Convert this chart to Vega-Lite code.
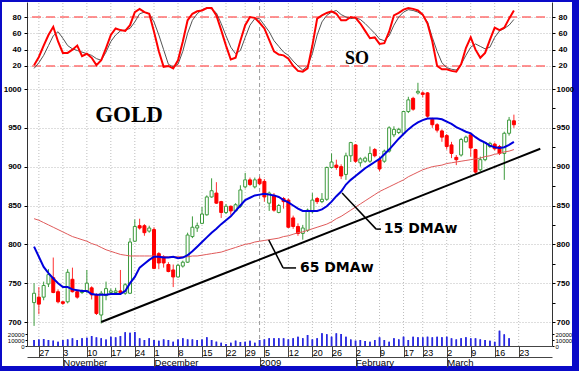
{
 "$schema": "https://vega.github.io/schema/vega-lite/v6.json",
 "width": 572, "height": 366,
 "autosize": {"type": "none"},
 "padding": {"left": 1, "top": 1, "right": 6, "bottom": 4},
 "background": "#0A0AC8",
 "config": {
  "view": {"fill": "white", "stroke": "#0A0AC8", "strokeWidth": 2},
  "font": "Liberation Sans",
  "axis": {"labelFont": "Liberation Sans", "labelColor": "black", "tickColor": "black", "domainColor": "black", "title": null, "labelBound": false, "labelFlush": false, "labelOverlap": false}
 },
 "datasets": {
  "px": [
   {"i":-1,"o":725,"h":750,"l":695,"c":737,"m15":797,"m65":833,"k":21,"d":17,"v":10000},
   {"i":0,"o":732,"h":745,"l":710,"c":723,"m15":784,"m65":831,"k":31,"d":24,"v":11000},
   {"i":1,"o":732,"h":752,"l":728,"c":747,"m15":771,"m65":828,"k":45,"d":33,"v":11700},
   {"i":2,"o":749,"h":768,"l":745,"c":761,"m15":763,"m65":825,"k":58,"d":45,"v":10000},
   {"i":3,"o":757,"h":783,"l":737,"c":738,"m15":756,"m65":822,"k":68,"d":57,"v":9000},
   {"i":4,"o":739,"h":742,"l":724,"c":726,"m15":750,"m65":819,"k":50,"d":62,"v":7200},
   {"i":5,"o":726,"h":727,"l":722,"c":724,"m15":745,"m65":816,"k":36,"d":54,"v":10000},
   {"i":6,"o":726,"h":768,"l":724,"c":764,"m15":745,"m65":813,"k":36,"d":45,"v":11000},
   {"i":7,"o":755,"h":770,"l":738,"c":739,"m15":742,"m65":810,"k":40,"d":41,"v":12800},
   {"i":8,"o":739,"h":741,"l":730,"c":732,"m15":741,"m65":808,"k":45,"d":39,"v":10000},
   {"i":9,"o":738,"h":742,"l":736,"c":740,"m15":740,"m65":806,"k":32,"d":37,"v":12800},
   {"i":10,"o":740,"h":767,"l":737,"c":750,"m15":740,"m65":804,"k":35,"d":35,"v":13900},
   {"i":11,"o":744,"h":746,"l":729,"c":735,"m15":736,"m65":801,"k":30,"d":33,"v":16600},
   {"i":12,"o":735,"h":737,"l":709,"c":711,"m15":735,"m65":799,"k":21,"d":29,"v":14400},
   {"i":13,"o":709,"h":740,"l":698,"c":737,"m15":735,"m65":796,"k":27,"d":27,"v":12800},
   {"i":14,"o":734,"h":752,"l":728,"c":743,"m15":735,"m65":793,"k":42,"d":37,"v":11000},
   {"i":15,"o":738,"h":743,"l":735,"c":740,"m15":736,"m65":791,"k":58,"d":50,"v":15500},
   {"i":16,"o":738,"h":744,"l":735,"c":740,"m15":736,"m65":789,"k":66,"d":58,"v":14400},
   {"i":17,"o":740,"h":767,"l":736,"c":738,"m15":736,"m65":787,"k":64,"d":63,"v":16600},
   {"i":18,"o":737,"h":750,"l":735,"c":748,"m15":740,"m65":786,"k":63,"d":64,"v":22800},
   {"i":19,"o":737,"h":808,"l":736,"c":803,"m15":750,"m65":785,"k":70,"d":66,"v":22200},
   {"i":20,"o":804,"h":832,"l":803,"c":823,"m15":758,"m65":785,"k":86,"d":74,"v":23300},
   {"i":21,"o":824,"h":833,"l":819,"c":821,"m15":770,"m65":785,"k":90,"d":84,"v":12800},
   {"i":22,"o":824,"h":826,"l":811,"c":815,"m15":775,"m65":785,"k":86,"d":86,"v":10000},
   {"i":23,"o":817,"h":824,"l":815,"c":821,"m15":780,"m65":785,"k":84,"d":84,"v":12800},
   {"i":24,"o":819,"h":822,"l":768,"c":769,"m15":784,"m65":785,"k":62,"d":74,"v":10000},
   {"i":25,"o":788,"h":790,"l":768,"c":776,"m15":784,"m65":784,"k":38,"d":58,"v":8900},
   {"i":26,"o":784,"h":786,"l":770,"c":776,"m15":783,"m65":784,"k":19,"d":40,"v":11000},
   {"i":27,"o":774,"h":777,"l":764,"c":765,"m15":783,"m65":784,"k":20,"d":22,"v":10000},
   {"i":28,"o":767,"h":774,"l":745,"c":758,"m15":784,"m65":784,"k":17,"d":19,"v":7200},
   {"i":29,"o":758,"h":775,"l":757,"c":773,"m15":782,"m65":784,"k":27,"d":22,"v":11000},
   {"i":30,"o":772,"h":779,"l":770,"c":777,"m15":783,"m65":784,"k":50,"d":38,"v":12800},
   {"i":31,"o":777,"h":815,"l":776,"c":812,"m15":786,"m65":784,"k":76,"d":60,"v":11000},
   {"i":32,"o":810,"h":836,"l":808,"c":822,"m15":791,"m65":785,"k":84,"d":76,"v":11000},
   {"i":33,"o":821,"h":828,"l":816,"c":824,"m15":797,"m65":785,"k":87,"d":84,"v":10000},
   {"i":34,"o":827,"h":848,"l":826,"c":839,"m15":803,"m65":786,"k":88,"d":89,"v":11000},
   {"i":35,"o":838,"h":863,"l":837,"c":861,"m15":809,"m65":787,"k":91,"d":91,"v":14400},
   {"i":36,"o":861,"h":885,"l":860,"c":869,"m15":815,"m65":788,"k":91,"d":90,"v":10000},
   {"i":37,"o":866,"h":880,"l":852,"c":853,"m15":820,"m65":789,"k":82,"d":85,"v":7200},
   {"i":38,"o":855,"h":856,"l":834,"c":841,"m15":826,"m65":790,"k":64,"d":72,"v":5500},
   {"i":39,"o":841,"h":852,"l":839,"c":849,"m15":831,"m65":792,"k":45,"d":57,"v":3300},
   {"i":40,"o":849,"h":850,"l":838,"c":843,"m15":836,"m65":794,"k":28,"d":43,"v":5500},
   {"i":41,"o":843,"h":853,"l":842,"c":851,"m15":843,"m65":796,"k":30,"d":35,"v":8900},
   {"i":42,"o":849,"h":876,"l":847,"c":870,"m15":850,"m65":798,"k":51,"d":39,"v":6600},
   {"i":43,"o":874,"h":892,"l":872,"c":883,"m15":857,"m65":800,"k":70,"d":55,"v":7200},
   {"i":44,"o":883,"h":886,"l":875,"c":877,"m15":860,"m65":801,"k":80,"d":70,"v":8900},
   {"i":45,"o":874,"h":886,"l":872,"c":883,"m15":863,"m65":803,"k":79,"d":78,"v":5500},
   {"i":46,"o":884,"h":887,"l":876,"c":878,"m15":864,"m65":804,"k":73,"d":78,"v":10000},
   {"i":47,"o":881,"h":884,"l":855,"c":861,"m15":865,"m65":805,"k":66,"d":70,"v":11000},
   {"i":48,"o":853,"h":868,"l":843,"c":866,"m15":864,"m65":806,"k":52,"d":62,"v":12800},
   {"i":49,"o":863,"h":866,"l":842,"c":844,"m15":863,"m65":807,"k":38,"d":51,"v":12800},
   {"i":50,"o":841,"h":852,"l":840,"c":850,"m15":861,"m65":808,"k":34,"d":44,"v":12800},
   {"i":51,"o":859,"h":861,"l":846,"c":855,"m15":857,"m65":810,"k":33,"d":37,"v":12800},
   {"i":52,"o":857,"h":859,"l":821,"c":822,"m15":854,"m65":811,"k":29,"d":33,"v":11000},
   {"i":53,"o":834,"h":837,"l":820,"c":823,"m15":850,"m65":813,"k":20,"d":26,"v":12800},
   {"i":54,"o":823,"h":827,"l":811,"c":814,"m15":846,"m65":815,"k":14,"d":20,"v":15500},
   {"i":55,"o":814,"h":825,"l":806,"c":821,"m15":843,"m65":816,"k":13,"d":15,"v":12800},
   {"i":56,"o":818,"h":846,"l":816,"c":844,"m15":843,"m65":818,"k":17,"d":20,"v":18300},
   {"i":57,"o":842,"h":866,"l":840,"c":857,"m15":843,"m65":820,"k":45,"d":35,"v":11000},
   {"i":58,"o":859,"h":861,"l":852,"c":855,"m15":843,"m65":822,"k":78,"d":58,"v":12800},
   {"i":59,"o":855,"h":866,"l":853,"c":858,"m15":845,"m65":824,"k":82,"d":74,"v":21100},
   {"i":60,"o":858,"h":900,"l":856,"c":899,"m15":849,"m65":826,"k":85,"d":82,"v":19400},
   {"i":61,"o":899,"h":917,"l":898,"c":906,"m15":855,"m65":829,"k":87,"d":86,"v":15500},
   {"i":62,"o":902,"h":909,"l":896,"c":899,"m15":862,"m65":833,"k":84,"d":88,"v":21100},
   {"i":63,"o":900,"h":903,"l":884,"c":888,"m15":868,"m65":836,"k":76,"d":83,"v":20000},
   {"i":64,"o":890,"h":918,"l":883,"c":914,"m15":877,"m65":840,"k":76,"d":80,"v":15500},
   {"i":65,"o":914,"h":932,"l":906,"c":931,"m15":883,"m65":844,"k":80,"d":78,"v":11000},
   {"i":66,"o":928,"h":929,"l":905,"c":907,"m15":888,"m65":848,"k":79,"d":79,"v":8900},
   {"i":67,"o":905,"h":912,"l":900,"c":910,"m15":893,"m65":852,"k":72,"d":77,"v":10000},
   {"i":68,"o":907,"h":913,"l":905,"c":911,"m15":898,"m65":856,"k":63,"d":72,"v":8300},
   {"i":69,"o":907,"h":926,"l":905,"c":917,"m15":902,"m65":860,"k":54,"d":66,"v":7200},
   {"i":70,"o":922,"h":924,"l":912,"c":914,"m15":906,"m65":864,"k":55,"d":60,"v":10000},
   {"i":71,"o":909,"h":913,"l":894,"c":897,"m15":910,"m65":868,"k":47,"d":53,"v":14400},
   {"i":72,"o":907,"h":922,"l":905,"c":920,"m15":916,"m65":871,"k":48,"d":51,"v":10000},
   {"i":73,"o":920,"h":952,"l":918,"c":950,"m15":922,"m65":874,"k":62,"d":57,"v":7200},
   {"i":74,"o":941,"h":952,"l":938,"c":948,"m15":929,"m65":877,"k":82,"d":70,"v":12800},
   {"i":75,"o":944,"h":950,"l":942,"c":948,"m15":936,"m65":880,"k":85,"d":80,"v":11000},
   {"i":76,"o":943,"h":972,"l":941,"c":971,"m15":942,"m65":883,"k":89,"d":86,"v":15500},
   {"i":77,"o":971,"h":990,"l":969,"c":986,"m15":948,"m65":887,"k":91,"d":89,"v":10000},
   {"i":78,"o":988,"h":990,"l":972,"c":974,"m15":953,"m65":890,"k":90,"d":88,"v":15500},
   {"i":79,"o":995,"h":1008,"l":993,"c":997,"m15":957,"m65":893,"k":88,"d":86,"v":14400},
   {"i":80,"o":995,"h":997,"l":989,"c":993,"m15":960,"m65":896,"k":83,"d":82,"v":14400},
   {"i":81,"o":995,"h":996,"l":963,"c":965,"m15":962,"m65":898,"k":72,"d":74,"v":15500},
   {"i":82,"o":961,"h":963,"l":950,"c":954,"m15":962,"m65":900,"k":50,"d":55,"v":14400},
   {"i":83,"o":954,"h":956,"l":944,"c":947,"m15":962,"m65":901,"k":20,"d":38,"v":15500},
   {"i":84,"o":946,"h":948,"l":932,"c":938,"m15":961,"m65":902,"k":16,"d":24,"v":14400},
   {"i":85,"o":940,"h":942,"l":922,"c":926,"m15":958,"m65":904,"k":16,"d":18,"v":15500},
   {"i":86,"o":928,"h":932,"l":911,"c":917,"m15":955,"m65":905,"k":14,"d":16,"v":12800},
   {"i":87,"o":912,"h":915,"l":902,"c":909,"m15":951,"m65":906,"k":13,"d":15,"v":11000},
   {"i":88,"o":915,"h":937,"l":913,"c":935,"m15":948,"m65":907,"k":22,"d":22,"v":12800},
   {"i":89,"o":932,"h":940,"l":931,"c":938,"m15":945,"m65":908,"k":42,"d":33,"v":14400},
   {"i":90,"o":941,"h":943,"l":913,"c":924,"m15":943,"m65":909,"k":55,"d":43,"v":12800},
   {"i":91,"o":922,"h":923,"l":891,"c":893,"m15":938,"m65":910,"k":40,"d":47,"v":12800},
   {"i":92,"o":896,"h":913,"l":894,"c":909,"m15":934,"m65":911,"k":30,"d":44,"v":11000},
   {"i":93,"o":909,"h":932,"l":907,"c":931,"m15":931,"m65":913,"k":36,"d":41,"v":10000},
   {"i":94,"o":926,"h":932,"l":924,"c":930,"m15":927,"m65":914,"k":52,"d":43,"v":8900},
   {"i":95,"o":929,"h":931,"l":921,"c":923,"m15":925,"m65":916,"k":67,"d":55,"v":7000},
   {"i":96,"o":926,"h":928,"l":915,"c":917,"m15":924,"m65":917,"k":64,"d":63,"v":25500},
   {"i":97,"o":917,"h":945,"l":883,"c":943,"m15":925,"m65":919,"k":67,"d":66,"v":19400},
   {"i":98,"o":943,"h":964,"l":940,"c":960,"m15":928,"m65":920,"k":78,"d":70,"v":12800},
   {"i":99,"o":959,"h":967,"l":950,"c":954,"m15":932,"m65":922,"k":88,"d":77,"v":0}
  ],
  "weeks": [{"i":0},{"i":5},{"i":10},{"i":15},{"i":20},{"i":24},{"i":29},{"i":34},{"i":39},{"i":43},{"i":47},{"i":52},{"i":57},{"i":61},{"i":66},{"i":71},{"i":76},{"i":80},{"i":85},{"i":90},{"i":95},{"i":100}],
  "soref": [{"v":80},{"v":20}],
  "trend": [{"i":13,"p":700},{"i":104.5,"p":923}],
  "leaders": [
   {"i":63.2,"p":866,"i2":70.3,"p2":819.6},
   {"i":70.3,"p":819.6,"i2":71.3,"p2":819.6},
   {"i":47.9,"p":805.7,"i2":50.9,"p2":769.6},
   {"i":50.9,"p":769.6,"i2":53.6,"p2":769.6}
  ],
  "notes": [
   {"i":71.9,"p":819.6,"t":"15 DMAw"},
   {"i":54.4,"p":769.6,"t":"65 DMAw"}
  ],
  "title": [{"i":18.8,"p":966.5,"t":"GOLD"}],
  "sotitle": [{"i":66.3,"v":28.5,"t":"SO"}],
  "newyear": [{"i":46}]
 },
 "resolve": {"scale": {"y": "independent"}, "axis": {"x": "independent", "y": "independent"}},
 "layer": [
  {
   "data": {"name": "weeks"},
   "mark": {"type": "rule", "color": "#BDBDBD", "strokeDash": [1, 2], "strokeWidth": 1},
   "encoding": {
    "x": {"field": "i", "type": "quantitative", "scale": {"domain": [-1.43, 105.9], "range": [26, 551], "nice": false, "zero": false},
          "axis": {"orient": "bottom", "offset": -21, "zindex": 2, "domain": true, "ticks": true, "labels": true, "values": [0,5,10,15,20,24,29,34,39,43,47,52,57,61,66,71,76,80,85,90,95,100],
                   "labelExpr": "['27','3','10','17','24','1','8','15','22','29','5','12','20','26','2','9','17','23','2','9','16','23'][indexof([0,5,10,15,20,24,29,34,39,43,47,52,57,61,66,71,76,80,85,90,95,100], datum.value)]",
                   "tickSize": 11, "tickColor": "#444", "domainColor": "#444", "labelAlign": "left", "labelBaseline": "top", "labelPadding": -9, "labelDx": 2, "labelFontSize": 9, "grid": false}},
    "y": {"datum": 0, "type": "quantitative", "scale": {"domain": [0, 1], "range": [345, 1], "nice": false, "zero": false},
          "axis": {"orient": "left", "offset": -26, "labels": false, "ticks": false, "grid": false, "domain": true, "domainColor": "#333"}},
    "y2": {"datum": 1}
   }
  },
  {
   "data": {"name": "newyear"},
   "mark": {"type": "rule", "color": "#999999", "strokeDash": [4, 3], "strokeWidth": 1},
   "encoding": {
    "x": {"field": "i", "type": "quantitative", "scale": {"domain": [-1.43, 105.9], "range": [26, 551], "nice": false, "zero": false}, "axis": null},
    "y": {"datum": 0, "type": "quantitative", "scale": {"domain": [0, 1], "range": [345, 1], "nice": false, "zero": false},
          "axis": {"orient": "right", "offset": -21, "labels": false, "ticks": false, "grid": false, "domain": true, "domainColor": "#333"}},
    "y2": {"datum": 1}
   }
  },
  {
   "resolve": {"axis": {"y": "independent"}},
   "layer": [
    {
     "data": {"name": "soref"},
     "mark": {"type": "rule", "color": "#FF7070", "strokeDash": [9, 5], "strokeWidth": 1.5},
     "encoding": {
      "x": {"datum": -1.43, "type": "quantitative", "scale": {"domain": [-1.43, 105.9], "range": [26, 551], "nice": false, "zero": false}, "axis": null},
      "x2": {"datum": 105.9},
      "y": {"field": "v", "type": "quantitative", "scale": {"domain": [0, 100], "range": [81.3, -0.3], "nice": false, "zero": false},
            "axis": {"orient": "left", "offset": -26, "values": [20, 40, 60, 80], "domain": false, "tickSize": 3, "labelPadding": 3, "labelFontSize": 8, "labelFontWeight": "bold", "grid": true, "gridColor": "#BDBDBD", "gridDash": [1, 2]}}
     }
    },
    {
     "mark": {"type": "rule", "color": "#0000CC", "strokeWidth": 1.5},
     "encoding": {
      "x": {"datum": -1.43, "type": "quantitative", "scale": {"domain": [-1.43, 105.9], "range": [26, 551], "nice": false, "zero": false}, "axis": null},
      "x2": {"datum": 105.9},
      "y": {"datum": 50, "type": "quantitative", "scale": {"domain": [0, 100], "range": [81.3, -0.3], "nice": false, "zero": false},
            "axis": {"orient": "right", "offset": -21, "values": [20, 40, 60, 80], "domain": false, "tickSize": 3, "labelPadding": 3, "labelFontSize": 8, "labelFontWeight": "bold", "grid": false}}
     }
    },
    {
     "data": {"name": "px"},
     "mark": {"type": "line", "color": "#555555", "strokeWidth": 1},
     "encoding": {
      "x": {"field": "i", "type": "quantitative", "scale": {"domain": [-1.43, 105.9], "range": [26, 551], "nice": false, "zero": false}, "axis": null},
      "y": {"field": "d", "type": "quantitative", "axis": null}
     }
    },
    {
     "data": {"name": "px"},
     "mark": {"type": "line", "color": "#FF0000", "strokeWidth": 2},
     "encoding": {
      "x": {"field": "i", "type": "quantitative", "scale": {"domain": [-1.43, 105.9], "range": [26, 551], "nice": false, "zero": false}, "axis": null},
      "y": {"field": "k", "type": "quantitative", "axis": null}
     }
    },
    {
     "data": {"name": "sotitle"},
     "mark": {"type": "text", "font": "Liberation Serif", "fontWeight": "bold", "fontSize": 18, "align": "center", "baseline": "middle", "color": "black"},
     "encoding": {
      "x": {"field": "i", "type": "quantitative", "scale": {"domain": [-1.43, 105.9], "range": [26, 551], "nice": false, "zero": false}, "axis": null},
      "y": {"field": "v", "type": "quantitative", "axis": null},
      "text": {"field": "t"}
     }
    }
   ]
  },
  {
   "resolve": {"axis": {"y": "independent"}},
   "layer": [
    {
     "data": {"name": "px"},
     "mark": {"type": "rule", "strokeWidth": 1},
     "encoding": {
      "x": {"field": "i", "type": "quantitative", "scale": {"domain": [-1.43, 105.9], "range": [26, 551], "nice": false, "zero": false}, "axis": null},
      "y": {"field": "l", "type": "quantitative", "scale": {"domain": [700, 1000], "range": [321, 88], "nice": false, "zero": false},
            "axis": {"orient": "left", "offset": -26, "format": "d", "values": [700, 750, 800, 850, 900, 950, 1000], "domain": false, "tickSize": 3, "labelPadding": 3, "labelFontSize": 8, "labelFontWeight": "bold", "grid": true, "gridColor": "#BDBDBD", "gridDash": [1, 2]}},
      "y2": {"field": "h"},
      "color": {"condition": {"test": "datum.c >= datum.o", "value": "#3C9A3C"}, "value": "#FF3030"}
     }
    },
    {
     "data": {"name": "px"},
     "mark": {"type": "bar", "size": 3, "strokeWidth": 1},
     "encoding": {
      "x": {"field": "i", "type": "quantitative", "scale": {"domain": [-1.43, 105.9], "range": [26, 551], "nice": false, "zero": false}, "axis": null},
      "y": {"field": "o", "type": "quantitative",
            "axis": {"orient": "right", "offset": -21, "format": "d", "values": [700, 725, 750, 775, 800, 825, 850, 875, 900, 925, 950, 975, 1000], "labelExpr": "datum.value % 50 == 0 ? datum.label : ''", "domain": false, "tickSize": 3, "labelPadding": 1, "labelFontSize": 8, "labelFontWeight": "bold", "grid": false}},
      "y2": {"field": "c"},
      "fill": {"condition": {"test": "datum.c >= datum.o", "value": "white"}, "value": "#FF0000"},
      "stroke": {"condition": {"test": "datum.c >= datum.o", "value": "#3C9A3C"}, "value": "#FF0000"}
     }
    },
    {
     "data": {"name": "px"},
     "mark": {"type": "line", "color": "#E05A5A", "strokeWidth": 1},
     "encoding": {
      "x": {"field": "i", "type": "quantitative", "scale": {"domain": [-1.43, 105.9], "range": [26, 551], "nice": false, "zero": false}, "axis": null},
      "y": {"field": "m65", "type": "quantitative", "axis": null}
     }
    },
    {
     "data": {"name": "px"},
     "mark": {"type": "line", "color": "#0000DD", "strokeWidth": 2},
     "encoding": {
      "x": {"field": "i", "type": "quantitative", "scale": {"domain": [-1.43, 105.9], "range": [26, 551], "nice": false, "zero": false}, "axis": null},
      "y": {"field": "m15", "type": "quantitative", "axis": null}
     }
    },
    {
     "data": {"name": "trend"},
     "mark": {"type": "line", "color": "black", "strokeWidth": 2},
     "encoding": {
      "x": {"field": "i", "type": "quantitative", "scale": {"domain": [-1.43, 105.9], "range": [26, 551], "nice": false, "zero": false}, "axis": null},
      "y": {"field": "p", "type": "quantitative", "axis": null}
     }
    },
    {
     "data": {"name": "leaders"},
     "mark": {"type": "rule", "color": "black", "strokeWidth": 1.5},
     "encoding": {
      "x": {"field": "i", "type": "quantitative", "scale": {"domain": [-1.43, 105.9], "range": [26, 551], "nice": false, "zero": false}, "axis": null},
      "x2": {"field": "i2"},
      "y": {"field": "p", "type": "quantitative", "axis": null},
      "y2": {"field": "p2"}
     }
    },
    {
     "data": {"name": "notes"},
     "mark": {"type": "text", "font": "DejaVu Sans", "fontWeight": "bold", "fontSize": 14, "align": "left", "baseline": "middle", "color": "black"},
     "encoding": {
      "x": {"field": "i", "type": "quantitative", "scale": {"domain": [-1.43, 105.9], "range": [26, 551], "nice": false, "zero": false}, "axis": null},
      "y": {"field": "p", "type": "quantitative", "axis": null},
      "text": {"field": "t"}
     }
    },
    {
     "data": {"name": "title"},
     "mark": {"type": "text", "font": "Liberation Serif", "fontWeight": "bold", "fontSize": 23, "align": "center", "baseline": "middle", "color": "black"},
     "encoding": {
      "x": {"field": "i", "type": "quantitative", "scale": {"domain": [-1.43, 105.9], "range": [26, 551], "nice": false, "zero": false}, "axis": null},
      "y": {"field": "p", "type": "quantitative", "axis": null},
      "text": {"field": "t"}
     }
    }
   ]
  },
  {
   "data": {"name": "px"},
   "mark": {"type": "rule", "color": "#2828E0", "strokeWidth": 1.5},
   "encoding": {
    "x": {"field": "i", "type": "quantitative", "scale": {"domain": [-1.43, 105.9], "range": [26, 551], "nice": false, "zero": false},
          "axis": {"orient": "bottom", "offset": -10, "zindex": 2, "domain": true, "ticks": true, "labels": true, "values": [5, 24, 46, 66, 85],
                   "labelExpr": "['November','December','2009','February','March'][indexof([5,24,46,66,85], datum.value)]",
                   "tickSize": 10, "tickColor": "#444", "domainColor": "#444", "labelAlign": "left", "labelBaseline": "top", "labelPadding": -9.5, "labelDx": 2, "labelFontSize": 9.5, "grid": false}},
    "y": {"field": "v", "type": "quantitative", "scale": {"domain": [0, 20000], "range": [345, 333], "nice": false, "zero": false},
          "axis": {"orient": "left", "offset": -26, "format": "d", "values": [0, 10000, 20000], "domain": false, "tickSize": 2, "labelPadding": 1, "labelFontSize": 6, "grid": false}},
    "y2": {"datum": 0}
   }
  },
  {
   "data": {"name": "px"},
   "mark": {"type": "rule", "color": "#2828E0", "strokeWidth": 1.5},
   "encoding": {
    "x": {"field": "i", "type": "quantitative", "scale": {"domain": [-1.43, 105.9], "range": [26, 551], "nice": false, "zero": false}, "axis": null},
    "y": {"field": "v", "type": "quantitative", "scale": {"domain": [0, 20000], "range": [345, 333], "nice": false, "zero": false},
          "axis": {"orient": "right", "offset": -21, "format": "d", "values": [0, 10000, 20000], "domain": false, "tickSize": 2, "labelPadding": 1, "labelFontSize": 6, "grid": false}},
    "y2": {"datum": 0}
   }
  }
 ]
}
